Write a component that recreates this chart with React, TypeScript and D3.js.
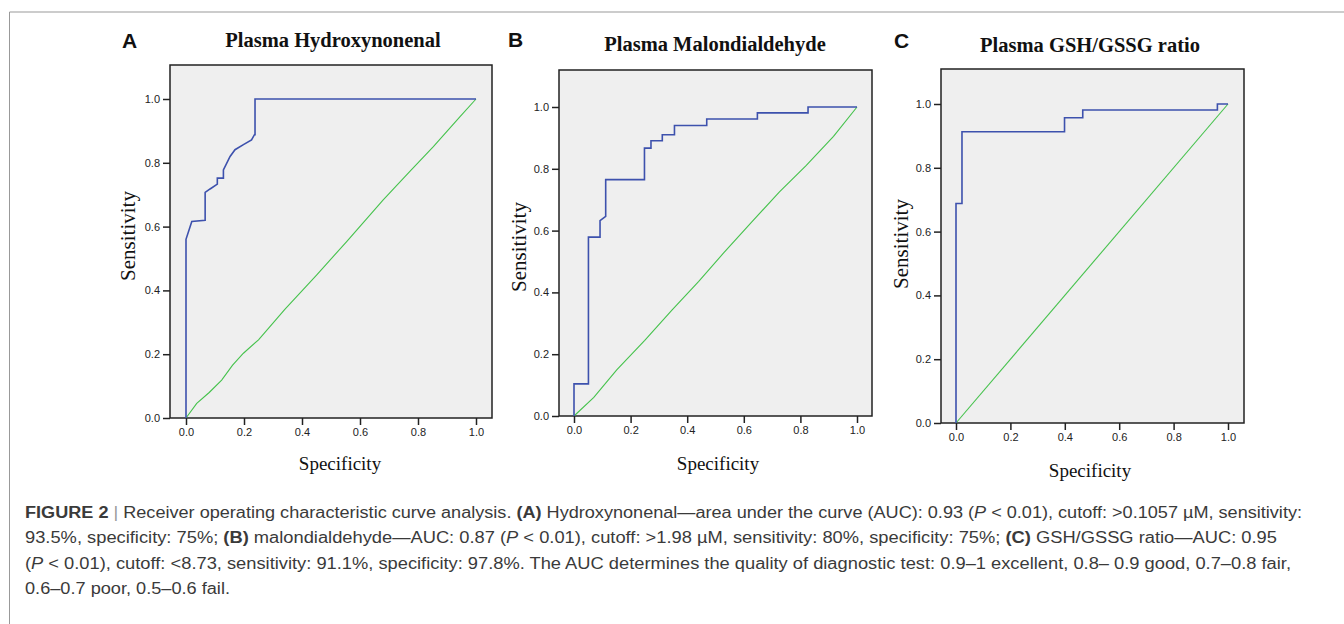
import React, { useEffect, useRef } from 'react';
import * as d3 from 'd3';

// axis ticks shared by all three panels
const tickValues = [0, 0.2, 0.4, 0.6, 0.8, 1.0];
const tickLabels = ['0.0', '0.2', '0.4', '0.6', '0.8', '1.0'];

const panelLetters = ['A', 'B', 'C'];
const panelTitles = ['Plasma Hydroxynonenal', 'Plasma Malondialdehyde', 'Plasma GSH/GSSG ratio'];

// ROC curves: [x on "Specificity" axis, sensitivity]
const rocA = [
  [0, 0], [0, 0.56], [0.02, 0.616], [0.066, 0.62], [0.066, 0.707], [0.083, 0.718],
  [0.108, 0.733], [0.108, 0.752], [0.129, 0.752], [0.129, 0.778], [0.152, 0.82],
  [0.169, 0.841], [0.198, 0.857], [0.226, 0.872], [0.236, 0.888], [0.238, 0.888],
  [0.238, 1], [1, 1]
];
const refA = [
  [0, 0], [0.037, 0.046], [0.08, 0.08], [0.123, 0.119], [0.16, 0.165], [0.198, 0.203],
  [0.25, 0.245], [0.34, 0.34], [0.451, 0.449], [0.554, 0.553], [0.68, 0.684],
  [0.772, 0.773], [0.853, 0.851], [0.945, 0.945], [1, 1]
];

const rocB = [
  [0, 0], [0, 0.104], [0.051, 0.104], [0.051, 0.579], [0.092, 0.579], [0.092, 0.632],
  [0.112, 0.646], [0.112, 0.765], [0.249, 0.765], [0.249, 0.867], [0.272, 0.867],
  [0.272, 0.891], [0.312, 0.891], [0.312, 0.91], [0.355, 0.91], [0.355, 0.94],
  [0.469, 0.94], [0.469, 0.961], [0.648, 0.961], [0.648, 0.981], [0.827, 0.981],
  [0.827, 1], [1, 1]
];
const refB = [
  [0, 0], [0.07, 0.06], [0.151, 0.149], [0.25, 0.245], [0.346, 0.343], [0.44, 0.435],
  [0.528, 0.527], [0.63, 0.63], [0.726, 0.725], [0.82, 0.81], [0.917, 0.905], [1, 1]
];

const rocC = [
  [0, 0], [0, 0.688], [0.022, 0.688], [0.022, 0.913], [0.399, 0.913], [0.399, 0.957],
  [0.466, 0.957], [0.466, 0.981], [0.961, 0.981], [0.961, 1], [1, 1]
];
const refC = [[0, 0], [1, 1]];

const rocCurves = [rocA, rocB, rocC];
const refCurves = [refA, refB, refC];

// caption lines, each a list of [text, style]
const captionLines = [
  [['FIGURE 2', 'b'], [' | ', 'bar'], ['Receiver operating characteristic curve analysis. ', ''], ['(A)', 'b'],
    [' Hydroxynonenal\u2014area under the curve (AUC): 0.93 (', ''], ['P', 'i'],
    [' < 0.01), cutoff: >0.1057 \u00b5M, sensitivity:', '']],
  [['93.5%, specificity: 75%; ', ''], ['(B)', 'b'], [' malondialdehyde\u2014AUC: 0.87 (', ''], ['P', 'i'],
    [' < 0.01), cutoff: >1.98 \u00b5M, sensitivity: 80%, specificity: 75%; ', ''], ['(C)', 'b'],
    [' GSH/GSSG ratio\u2014AUC: 0.95', '']],
  [['(', ''], ['P', 'i'],
    [' < 0.01), cutoff: <8.73, sensitivity: 91.1%, specificity: 97.8%. The AUC determines the quality of diagnostic test: 0.9\u20131 excellent, 0.8\u2013 0.9 good, 0.7\u20130.8 fair,', '']],
  [['0.6\u20130.7 poor, 0.5\u20130.6 fail.', '']]
];
const captionWidths = [1277, 1252, 1266, 205];

// layout of the three panels (pixels)
const panels = [
  { frame: { l: 170, t: 65, r: 492, b: 418 }, x0: 186, x1: 476, y0: 418, y1: 99,
    letter: [122, 48], title: [333, 47], ylab: [128, 236], xlab: [340, 470] },
  { frame: { l: 559, t: 70, r: 872, b: 416 }, x0: 574, x1: 857, y0: 416, y1: 107,
    letter: [508, 47], title: [715, 50.5], ylab: [519, 247], xlab: [718, 470] },
  { frame: { l: 941, t: 69, r: 1244, b: 423 }, x0: 956, x1: 1228, y0: 423, y1: 104,
    letter: [894, 48], title: [1090, 52], ylab: [901, 244], xlab: [1090, 477] }
];

const serif = '"Liberation Serif", "Times New Roman", serif';
const sans = '"Liberation Sans", Arial, sans-serif';

const RocPanel = ({ p, i }) => {
  const gx = useRef(null);
  const gy = useRef(null);
  const x = d3.scaleLinear().domain([0, 1]).range([p.x0, p.x1]);
  const y = d3.scaleLinear().domain([0, 1]).range([p.y0, p.y1]);

  useEffect(() => {
    const style = (g) => {
      g.select('.domain').remove();
      g.selectAll('line').attr('stroke', '#222').attr('stroke-width', 1.5);
      g.selectAll('text').attr('fill', '#222').style('font-family', sans).style('font-size', '11px');
    };
    d3.select(gx.current)
      .call(d3.axisBottom(x).tickValues(tickValues).tickFormat((d, k) => tickLabels[k]).tickSize(7).tickPadding(3))
      .call(style);
    d3.select(gy.current)
      .call(d3.axisLeft(y).tickValues(tickValues).tickFormat((d, k) => tickLabels[k]).tickSize(7).tickPadding(3))
      .call(style);
  }, []);

  const line = d3.line().x(d => x(d[0])).y(d => y(d[1]));
  const f = p.frame;

  return (
    <g>
      <text x={p.letter[0]} y={p.letter[1]} fontFamily={sans} fontWeight="bold" fontSize={21} fill="#111">
        {panelLetters[i]}
      </text>
      <text x={p.title[0]} y={p.title[1]} textAnchor="middle" fontFamily={serif} fontWeight="bold" fontSize={20.5} fill="#111">
        {panelTitles[i]}
      </text>
      <rect x={f.l} y={f.t} width={f.r - f.l} height={f.b - f.t} fill="#efefef" stroke="#222" strokeWidth={1.5} />
      <path d={line(refCurves[i])} fill="none" stroke="#45c24c" strokeWidth={1.1} />
      <path d={line(rocCurves[i])} fill="none" stroke="#3d51ad" strokeWidth={1.6} />
      <g ref={gx} transform={`translate(0,${f.b})`} />
      <g ref={gy} transform={`translate(${f.l},0)`} />
      <text transform={`translate(${p.ylab[0]},${p.ylab[1]}) rotate(-90)`} textAnchor="middle" dominantBaseline="central"
        fontFamily={serif} fontSize={21} fill="#111">Sensitivity</text>
      <text x={p.xlab[0]} y={p.xlab[1]} textAnchor="middle" fontFamily={serif} fontSize={19} fill="#111">Specificity</text>
    </g>
  );
};

const App = () => {
  return (
    <svg width={1344} height={624} style={{ position: 'absolute', left: 0, top: 0, background: '#fff' }}>
      <path d="M1344,12H9.5V624" fill="none" stroke="#999" strokeWidth={1} />
      {panels.map((p, i) => <RocPanel key={i} p={p} i={i} />)}
      {captionLines.map((segs, k) => (
        <text key={k} x={25} y={518 + k * 25.3} fontFamily={'"Liberation Sans Narrow", "Arial Narrow", "Liberation Sans", sans-serif'}
          fontSize={16} fill="#3a3a3a" style={{ whiteSpace: 'pre' }}
          textLength={captionWidths[k]} lengthAdjust="spacingAndGlyphs">
          {segs.map(([t, s], j) => (
            <tspan key={j} fontWeight={s === 'b' ? 'bold' : 'normal'} fontStyle={s === 'i' ? 'italic' : 'normal'}
              fill={s === 'bar' ? '#999' : undefined}>{t}</tspan>
          ))}
        </text>
      ))}
    </svg>
  );
};

export default App;
